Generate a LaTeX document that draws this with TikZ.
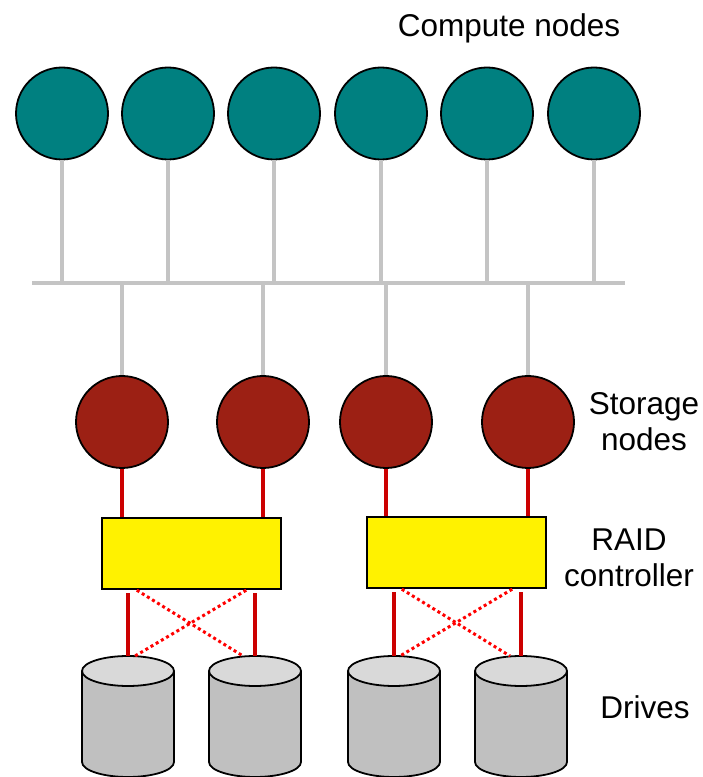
\documentclass[tikz,border=0pt]{standalone}
\usepackage{fontspec}
\setmainfont{Liberation Sans}
\usetikzlibrary{calc}
\definecolor{tealnode}{HTML}{008080}
\definecolor{rednode}{HTML}{9C2014}
\definecolor{linkgray}{HTML}{C4C4C4}
\definecolor{linkred}{HTML}{CC0000}
\definecolor{bodygray}{HTML}{C0C0C0}
\definecolor{topgray}{HTML}{D9D9D9}
\begin{document}
\begin{tikzpicture}[x=1pt, y=1pt, font=\fontsize{31.5}{36}\selectfont,
  compute/.style={circle, draw, line width=1.8pt, fill=tealnode, minimum size=92pt, inner sep=0pt},
  storage/.style={circle, draw, line width=1.8pt, fill=rednode, minimum size=92pt, inner sep=0pt},
  raidbox/.style={draw, line width=2.4pt, fill=yellow, minimum width=179pt, minimum height=71pt, inner sep=0pt},
  graylink/.style={draw=linkgray, line width=3.5pt},
  redlink/.style={draw=linkred, line width=3.6pt},
  crosslink/.style={draw=red, line width=3pt, dash pattern=on 3pt off 3pt},
  label/.style={align=center}]
\useasboundingbox (0,0) rectangle (702,777);
% compute nodes
\node[compute] (cn1) at (62,663.5) {};
\node[compute] (cn2) at (168,663.5) {};
\node[compute] (cn3) at (274,663.5) {};
\node[compute] (cn4) at (381,663.5) {};
\node[compute] (cn5) at (487,663.5) {};
\node[compute] (cn6) at (594,663.5) {};
\node[label] (computelbl) at (509,749) {Compute nodes};
% network
\coordinate (busL) at (32,494);
\coordinate (busR) at (625,494);
\draw[graylink] (busL) -- (busR);
\foreach \n in {cn1,cn2,cn3,cn4,cn5,cn6}
  \draw[graylink] (\n.south) -- (\n.south |- busL);
% storage nodes
\node[storage] (sn1) at (122,355) {};
\node[storage] (sn2) at (263,355) {};
\node[storage] (sn3) at (386,355) {};
\node[storage] (sn4) at (528,355) {};
\node[label] (storagelbl) at (644,355) {Storage\\nodes};
\foreach \n in {sn1,sn2,sn3,sn4}
  \draw[graylink] (\n.north) -- (\n.north |- busL);
% raid controllers
\node[raidbox] (raid1) at (191.5,223.5) {};
\node[raidbox] (raid2) at (456.5,224.5) {};
\node[label] (raidlbl) at (629,219) {RAID\\controller};
\draw[redlink] (sn1.south) -- (sn1.south |- raid1.north);
\draw[redlink] (sn2.south) -- (sn2.south |- raid1.north);
\draw[redlink] (sn3.south) -- (sn3.south |- raid2.north);
\draw[redlink] (sn4.south) -- (sn4.south |- raid2.north);
% drives
\foreach \n/\x in {d1/128,d2/255,d3/394,d4/521}{
  \coordinate (\n) at (\x,121);
  \fill[bodygray] (\x-46,106) -- (\x-46,15) arc[start angle=180, end angle=360, x radius=46, y radius=15] -- (\x+46,106) -- cycle;
  \draw[line width=1.8pt] (\x-46,106) -- (\x-46,15) arc[start angle=180, end angle=360, x radius=46, y radius=15] -- (\x+46,106);
  \draw[line width=1.8pt, fill=topgray] (\x,106) ellipse[x radius=46, y radius=15];
}
\node[label] (driveslbl) at (645,70) {Drives};
\draw[redlink, shorten <=3pt] (d1 |- raid1.south) -- (d1);
\draw[redlink, shorten <=3pt] (d2 |- raid1.south) -- (d2);
\draw[redlink, shorten <=3pt] (d3 |- raid2.south) -- (d3);
\draw[redlink, shorten <=3pt] (d4 |- raid2.south) -- (d4);
\draw[crosslink] ([xshift=36pt]raid1.south west) -- ([xshift=-12pt]d2);
\draw[crosslink] ([xshift=-36pt]raid1.south east) -- ([xshift=7pt]d1);
\draw[crosslink] ([xshift=36pt]raid2.south west) -- ([xshift=-11pt]d4);
\draw[crosslink] ([xshift=-35pt]raid2.south east) -- ([xshift=6pt]d3);
\end{tikzpicture}
\end{document}
